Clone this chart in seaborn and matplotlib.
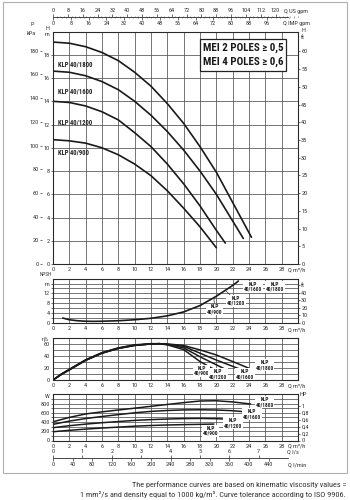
import matplotlib

matplotlib.use("Agg")

import matplotlib.pyplot as plt
import numpy as np
import pandas as pd
import seaborn as sns
from matplotlib import font_manager
from matplotlib.patches import Rectangle
from matplotlib.ticker import MultipleLocator

MODELS = ["KLP 40/1800", "KLP 40/1600", "KLP 40/1200", "KLP 40/900"]

# head curves, H [m] vs Q [m3/h]
Q_H_1800 = [0, 2, 4, 6, 8, 10, 12, 14, 16, 18, 20, 22, 24.3]
H_1800 = [19.1, 19.0, 18.7, 18.2, 17.5, 16.5, 15.3, 13.8, 12.1, 10.1, 7.9, 5.3, 2.3]
Q_H_1600 = [0, 2, 4, 6, 8, 10, 12, 14, 16, 18, 20, 22, 23.3]
H_1600 = [16.6, 16.5, 16.2, 15.7, 15.0, 14.0, 12.8, 11.4, 9.8, 8.0, 6.0, 3.7, 2.2]
Q_H_1200 = [0, 2, 4, 6, 8, 10, 12, 14, 16, 18, 20, 21.1]
H_1200 = [14.0, 13.9, 13.6, 13.1, 12.4, 11.3, 10.1, 8.6, 6.9, 5.0, 2.9, 1.8]
Q_H_900 = [0, 2, 4, 6, 8, 10, 12, 14, 16, 18, 20]
H_900 = [10.7, 10.6, 10.4, 10.0, 9.4, 8.6, 7.6, 6.3, 4.8, 3.2, 1.4]

# NPSH (one curve for all models)
Q_NPSH = [1.2, 2, 3, 4, 5, 6, 8, 10, 12, 14, 16, 18, 20, 22, 22.7]
NPSH = [1.9, 1.2, 0.8, 0.6, 0.55, 0.6, 0.8, 1.2, 1.8, 2.8, 4.4, 7.0, 10.8, 15.2, 17.0]

# efficiency [%]
Q_E_1800 = [0, 1, 2, 4, 6, 8, 10, 12, 13, 14, 16, 18, 20, 22, 24.3]
E_1800 = [0, 9, 17, 33, 45, 53, 58, 60.5, 61, 60.5, 58, 50.5, 42, 31, 18]
Q_E_1600 = [0, 1, 2, 4, 6, 8, 10, 12, 13, 14, 16, 18, 20, 22, 23.3]
E_1600 = [0, 9, 17, 33, 45, 53, 58, 60.5, 61, 60, 56.5, 45, 33.5, 23, 16]
Q_E_1200 = [0, 1, 2, 4, 6, 8, 10, 12, 13, 14, 16, 18, 20, 21.1]
E_1200 = [0, 9.5, 17.5, 33.5, 45.5, 53.5, 58.5, 60.5, 61, 59.5, 54, 39, 25.5, 18]
Q_E_900 = [0, 1, 2, 4, 6, 8, 10, 12, 13, 14, 16, 18, 19.7]
E_900 = [0, 10, 18, 34, 46, 54, 59, 61, 61, 59, 51, 31, 18]

# absorbed power [W]
Q_P_1800 = [0, 2, 4, 6, 8, 10, 12, 14, 16, 18, 20, 22, 24.2]
P_1800 = [405, 500, 575, 620, 660, 700, 740, 780, 820, 855, 860, 835, 790]
Q_P_1600 = [0, 2, 4, 6, 8, 10, 12, 14, 16, 18, 20, 22, 23.3]
P_1600 = [350, 420, 475, 520, 560, 600, 630, 650, 662, 665, 660, 645, 625]
Q_P_1200 = [0, 2, 4, 6, 8, 10, 12, 14, 16, 18, 20, 21.1]
P_1200 = [277, 320, 355, 385, 410, 435, 452, 465, 474, 478, 472, 465]
Q_P_900 = [0, 2, 4, 6, 8, 10, 12, 14, 16, 18, 19.7]
P_900 = [190, 220, 247, 270, 290, 310, 325, 336, 344, 350, 355]

Q_TICKS = list(range(0, 29, 2))
US_GPM_TICKS = list(range(0, 121, 8))
IMP_GPM_TICKS = list(range(0, 97, 8))
LS_TICKS = list(range(0, 8))
LMIN_TICKS = list(range(0, 441, 40))
HP_TICKS = [0, 0.2, 0.4, 0.6, 0.8, 1]
HP_LABELS = ["0", "0,2", "0,4", "0,6", "0,8", "1"]

FW, FH = 350, 500
CURVE = "#1c1a19"
GRID = "#505050"
TXT = "#333333"
TS = 4.5


def pick_font():
    names = {f.name for f in font_manager.fontManager.ttflist}
    for cand in ["Liberation Sans Narrow", "DejaVu Sans Condensed", "Roboto Condensed", "Liberation Sans"]:
        if cand in names:
            return cand
    return "DejaVu Sans"


def frect(x0, y0, x1, y1):
    return [x0 / FW, 1 - y1 / FH, (x1 - x0) / FW, (y1 - y0) / FH]


def curves_frame(qs, vs):
    parts = [pd.DataFrame({"q": q, "v": v, "model": m}) for m, q, v in zip(MODELS, qs, vs)]
    return pd.concat(parts, ignore_index=True)


def base_style(ax, ymax, ystep, ylabels):
    ax.set_xlim(0, 30)
    ax.set_ylim(0, ymax)
    ax.set_xticks(Q_TICKS)
    ax.set_xticklabels([str(t) for t in Q_TICKS])
    ax.set_yticks(np.arange(0, ymax, ystep))
    ax.set_yticklabels(ylabels)
    ax.grid(True, color=GRID, lw=0.55)
    ax.set_axisbelow(True)
    for s in ax.spines.values():
        s.set_color("#2a2a2a")
        s.set_linewidth(0.8)
        s.set_visible(True)
    ax.tick_params(labelsize=TS, length=1.5, pad=0.8, color=TXT, labelcolor=TXT, width=0.5)
    ax.set_xlabel("")
    ax.set_ylabel("")


def right_axis(ax, ymax, ticks, labels):
    tw = ax.twinx()
    tw.set_ylim(0, ymax)
    tw.set_yticks(ticks)
    tw.set_yticklabels(labels)
    tw.grid(False)
    for s in tw.spines.values():
        s.set_visible(False)
    tw.tick_params(labelsize=TS, length=1.5, pad=0.8, color=TXT, labelcolor=TXT, width=0.5)
    return tw


def pump_label(ax, text, x, y, xy=None, arrowprops=None):
    ax.annotate(
        text, xy=xy if xy is not None else (x, y), xytext=(x, y), ha="center", va="center",
        fontsize=3.9, fontweight="bold", color="#222222", linespacing=1.05,
        bbox=dict(boxstyle="square,pad=0.15", fc="white", ec="none"),
        arrowprops=arrowprops, zorder=5,
    )


def scale_axis(ax, on_top, ticks, xmax, minor=None):
    ax.set_xlim(0, xmax)
    ax.set_xticks(ticks)
    if minor:
        ax.xaxis.set_minor_locator(MultipleLocator(minor))
    if on_top:
        ax.xaxis.tick_top()
    else:
        ax.xaxis.tick_bottom()
    ax.tick_params(axis="x", which="both", top=on_top, labeltop=on_top,
                   bottom=not on_top, labelbottom=not on_top)
    ax.tick_params(axis="x", which="major", labelsize=TS, length=2, pad=0.8, color=TXT,
                   labelcolor=TXT, width=0.5)
    ax.tick_params(axis="x", which="minor", length=1, color=TXT, width=0.4)
    for s in ax.spines.values():
        s.set_visible(False)
    ax.grid(False)


def scale_pair(fig, y_px, upper_ticks, upper_max, lower_ticks, lower_max, line_end, minor=None):
    upper = fig.add_axes(frect(53, y_px, 298, y_px + 0.05))
    upper.patch.set_visible(False)
    upper.set_ylim(0, 1)
    upper.set_yticks([])
    lower = upper.twiny()
    # twiny resets the parent's tick side, so style both afterwards
    scale_axis(upper, True, upper_ticks, upper_max, minor=minor)
    scale_axis(lower, False, lower_ticks, lower_max, minor=minor)
    upper.spines["top"].set_visible(True)
    upper.spines["top"].set_bounds(0, line_end)
    upper.spines["top"].set_color("#2a2a2a")
    upper.spines["top"].set_linewidth(0.6)
    return upper, lower


def main():
    sns.set_theme(style="white")
    font = pick_font()
    plt.rcParams["font.family"] = [font, "DejaVu Sans"]

    fig = plt.figure(figsize=(3.5, 5.0), dpi=100)
    fig.patch.set_facecolor("white")
    renderer = fig.canvas.get_renderer()

    def ftext(x, y, s, **kw):
        kw.setdefault("fontsize", TS)
        kw.setdefault("color", TXT)
        return fig.text(x / FW, 1 - y / FH, s, **kw)

    def fit(t, width_px):
        w = t.get_window_extent(renderer).width
        t.set_fontsize(t.get_fontsize() * width_px / w)
        return t.get_fontsize()

    # ---- head panel
    ax_h = fig.add_axes(frect(53, 31.6, 298, 264))
    h_df = curves_frame([Q_H_1800, Q_H_1600, Q_H_1200, Q_H_900], [H_1800, H_1600, H_1200, H_900])
    sns.lineplot(data=h_df, x="q", y="v", units="model", estimator=None, color=CURVE,
                 lw=1.2, legend=False, ax=ax_h)
    base_style(ax_h, 20, 2, [str(v) for v in range(0, 19, 2)])
    right_axis(ax_h, 20 / 0.3048, list(range(0, 61, 5)), [str(v) for v in range(0, 61, 5)])
    kpa = ax_h.twinx()
    kpa.set_ylim(0, 20 * 9.81)
    kpa.set_yticks(list(range(0, 181, 20)))
    kpa.yaxis.tick_left()
    kpa.spines["left"].set_position(("outward", 7.9))
    for s in kpa.spines.values():
        s.set_visible(False)
    kpa.grid(False)
    kpa.tick_params(labelsize=TS, length=1.5, pad=0.8, color=TXT, labelcolor=TXT, width=0.5)

    name_fs = None
    for name, hy in zip(MODELS, [17.2, 14.85, 12.2, 9.6]):
        t = ax_h.text(0.6, hy, name, fontsize=4.6, fontweight="bold", color="#222222",
                      ha="left", va="center")
        if name_fs is None:
            name_fs = fit(t, 34)
        t.set_fontsize(name_fs)

    fig.add_artist(Rectangle((200 / FW, 1 - 71 / FH), 86 / FW, 32 / FH, transform=fig.transFigure,
                             fc="white", ec="#222222", lw=0.9, zorder=3))
    m1 = ftext(243, 47.5, "MEI 2 POLES ≥ 0,5", fontsize=7.2, fontweight="bold", color="#1a1a1a",
               ha="center", va="center", zorder=4)
    mei_fs = fit(m1, 81)
    ftext(243, 61.5, "MEI 4 POLES ≥ 0,6", fontsize=mei_fs, fontweight="bold", color="#1a1a1a",
          ha="center", va="center", zorder=4)

    ftext(32.7, 25, "P", ha="center", va="center")
    ftext(31, 33, "kPa", ha="center", va="center")
    ftext(47, 28, "H", ha="center", va="center")
    ftext(47.5, 34, "m", ha="center", va="center")
    ftext(303, 30, "H", ha="center", va="center")
    ftext(303, 37.5, "ft", ha="center", va="center")

    # ---- top flow scales (US gpm above the line, IMP gpm below)
    scale_pair(fig, 17, US_GPM_TICKS, 30 * 4.4029, IMP_GPM_TICKS, 30 * 3.6662,
               28.8 * 4.4029, minor=2)
    ftext(284, 12, "Q US gpm", ha="left", va="center")
    ftext(283, 23.5, "Q IMP gpm", ha="left", va="center")

    # ---- NPSH panel
    ax_n = fig.add_axes(frect(53, 278.6, 298, 322.7))
    n_df = pd.DataFrame({"q": Q_NPSH, "v": NPSH})
    sns.lineplot(data=n_df, x="q", y="v", color=CURVE, lw=1.2, ax=ax_n)
    base_style(ax_n, 18, 2, ["0", "", "4", "", "8", "", "12", "", "m"])
    right_axis(ax_n, 18 / 0.3048, [0, 10, 20, 30, 40, 50], ["0", "10", "20", "30", "40", "ft"])
    ftext(46, 275, "NPSH", ha="center", va="center", fontsize=3.9)
    end_1200 = float(np.interp(21.1, Q_NPSH, NPSH))
    end_900 = float(np.interp(19.7, Q_NPSH, NPSH))
    line = dict(arrowstyle="-", color="#333333", lw=0.5, shrinkA=0, shrinkB=0)
    pump_label(ax_n, "KLP\n40/1600", 24.5, 14.7)
    pump_label(ax_n, "KLP\n40/1800", 27.2, 14.7)
    pump_label(ax_n, "KLP\n40/1200", 22.4, 9.0, xy=(21.1, end_1200), arrowprops=line)
    pump_label(ax_n, "KLP\n40/900", 19.8, 5.4, xy=(19.7, end_900), arrowprops=line)

    # ---- efficiency panel
    ax_e = fig.add_axes(frect(53, 338.3, 298, 380))
    e_df = curves_frame([Q_E_1800, Q_E_1600, Q_E_1200, Q_E_900], [E_1800, E_1600, E_1200, E_900])
    sns.lineplot(data=e_df, x="q", y="v", units="model", estimator=None, color=CURVE,
                 lw=1.1, legend=False, ax=ax_e)
    base_style(ax_e, 70, 10, ["0", "", "20", "", "40", "", "60"])
    ftext(45, 339, "η%", ha="center", va="center")
    pump_label(ax_e, "KLP\n40/900", 18.2, 15.6)
    pump_label(ax_e, "KLP\n40/1200", 20.2, 9.5)
    pump_label(ax_e, "KLP\n40/1600", 23.5, 9.5)
    pump_label(ax_e, "KLP\n40/1800", 25.9, 25.0)

    # ---- power panel
    ax_p = fig.add_axes(frect(53, 394.3, 298, 440.5))
    p_df = curves_frame([Q_P_1800, Q_P_1600, Q_P_1200, Q_P_900], [P_1800, P_1600, P_1200, P_900])
    sns.lineplot(data=p_df, x="q", y="v", units="model", estimator=None, color=CURVE,
                 lw=1.1, legend=False, ax=ax_p)
    base_style(ax_p, 1000, 100, ["0", "", "200", "", "400", "", "600", "", "800", ""])
    right_axis(ax_p, 1000 / 745.7, HP_TICKS, HP_LABELS)
    ftext(46.7, 396.5, "W", ha="center", va="center")
    ftext(303.5, 395, "HP", ha="center", va="center")
    pump_label(ax_p, "KLP\n40/1800", 25.9, 833)
    pump_label(ax_p, "KLP\n40/1600", 24.4, 567)
    pump_label(ax_p, "KLP\n40/1200", 22.0, 372)
    pump_label(ax_p, "KLP\n40/900", 19.3, 210)

    for yq in [270, 329.5, 385.5, 446]:
        ftext(288, yq, "Q m³/h", ha="left", va="center")

    # ---- bottom flow scales (l/s above the line, l/min below)
    scale_pair(fig, 457.7, LS_TICKS, 30 / 3.6, LMIN_TICKS, 30 * 1000 / 60, 28.8 / 3.6)
    ftext(287, 451.5, "Q l/s", ha="left", va="center")
    ftext(288, 464.5, "Q l/min", ha="left", va="center")

    # frame and footnote
    fig.add_artist(Rectangle((3 / FW, 1 - 473 / FH), 344 / FW, 471 / FH, transform=fig.transFigure,
                             fill=False, ec="#b0b0b0", lw=0.8))
    f2 = ftext(346, 494.3,
               "1 mm²/s and density equal to 1000 kg/m³. Curve tolerance according to ISO 9906.",
               ha="right", va="center", fontsize=5.4)
    foot_fs = fit(f2, 266)
    ftext(346, 484.3, "The performance curves are based on kinematic viscosity values =",
          ha="right", va="center", fontsize=foot_fs)

    fig.savefig("out.png", dpi=100, facecolor="white")
    plt.close(fig)


if __name__ == "__main__":
    main()
